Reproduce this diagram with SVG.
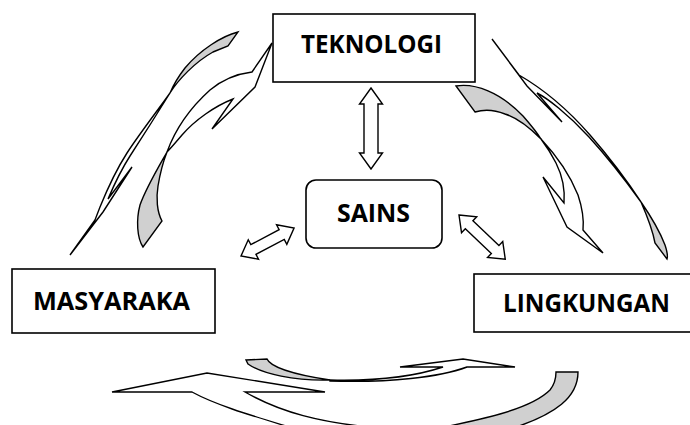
<svg xmlns="http://www.w3.org/2000/svg" width="690" height="425" viewBox="0 0 690 425">
<style>
.box{fill:#fff;stroke:#000;stroke-width:1.6}
.lbl{font-family:"Open Sans","Lato",sans-serif;font-weight:bold;font-size:25px;fill:#000}
.w{fill:#fff;stroke:#000;stroke-width:1.4;stroke-linejoin:miter}
.g{fill:#d0d0d0;stroke:#000;stroke-width:1.4;stroke-linejoin:miter}
</style>
<rect width="690" height="425" fill="#fff"/>
<g id="connectors">
  <!-- double arrows -->
  <path class="w" d="M371,88 L382.5,104 L378,104 L378,153 L382.5,153 L371,169 L359.5,153 L364,153 L364,104 L359.5,104 Z"/>
  <path class="w" transform="translate(241,256) rotate(-27.8)" d="M0,0 L14,-11 L14,-5.5 L46,-5.5 L46,-11 L60,0 L46,11 L46,5.5 L14,5.5 L14,11 Z"/>
  <path class="w" transform="translate(459,215) rotate(43.7)" d="M0,0 L14,-11 L14,-5.5 L50,-5.5 L50,-11 L64,0 L50,11 L50,5.5 L14,5.5 L14,11 Z"/>
  <!-- top-left outer curved arrow -->
  <path class="g" d="M238,32 C222,36 200,50 185,68 C178,77 173,86 170,93 C178,80 195,62 213,52 L228,46 Z"/>
  <path class="w" d="M170,93 C158,110 140,133 127,153 C118,167 109,185 100,207 L95,220 L70,255 L103,212 L132,167 L108,199 C114,185 121,170 130,156 C143,136 157,114 170,93 Z"/>
  <!-- top-left inner curved arrow -->
  <path class="g" d="M167,152 C158,168 146,188 140,205 C136,220 137,238 143,247 L162,221 C157,212 156,198 158,186 C160,174 163,162 167,152 Z"/>
  <path class="w" d="M167,152 C175,130 190,108 210,90 C222,80 236,74 252,72 L272,43 L255,87 L212,129 L233,99 C215,106 195,120 182,135 C176,142 171,148 167,152 Z"/>
  <!-- top-right inner curved arrow -->
  <path class="g" d="M456,86 C475,83 500,92 523,116 C530,124 536,131 541,139 C530,128 518,118 505,114 C495,110 485,109 475,112 Z"/>
  <path class="w" d="M541,139 C556,155 570,175 578,195 C582,207 584,220 583,230 L603,253 L567,227 L543,177 L564,203 C565,190 562,175 556,163 C552,155 547,147 541,139 Z"/>
  <!-- top-right outer curved arrow -->
  <path class="w" d="M492,39 L519,75 C545,90 570,112 590,135 C610,158 628,182 641,202 C628,184 610,160 589,137 C568,114 547,98 537,93 L562,122 L527,86 Z"/>
  <path class="g" d="M641,202 C650,215 660,232 665,245 C667,251 668,256 667,259 L655,243 C653,232 648,218 641,202 Z"/>
  <!-- bottom upper curved arrow -->
  <path class="g" d="M246,360 L267,359 C270,366 290,374 330,380 C295,381 262,374 248,364 Z"/>
  <path class="w" d="M330,380 C370,381 410,378 443,367 L400,367 L463,359 L515,367 L467,367 C440,377 390,383 330,381 Z"/>
  <!-- bottom lower big curved arrow -->
  <path class="w" d="M192,392 L112,392 L207,373 L325,392 L245,392 C280,412 320,423 380,428 L380,440 L330,440 C280,423 225,410 192,392 Z"/>
  <path class="g" d="M556,372 L578,372 C578,395 560,415 500,432 L420,432 C480,420 530,410 550,390 C554,385 556,378 556,372 Z"/>
</g>
<g id="teknologi">
  <rect class="box" x="273" y="14" width="202" height="68"/>
  <text class="lbl" x="301" y="53" textLength="141" lengthAdjust="spacingAndGlyphs">TEKNOLOGI</text>
</g>
<g id="sains">
  <rect class="box" x="306" y="180" width="136" height="68" rx="10"/>
  <text class="lbl" x="337" y="222" textLength="73" lengthAdjust="spacingAndGlyphs">SAINS</text>
</g>
<g id="masyaraka">
  <rect class="box" x="12" y="269" width="203" height="64"/>
  <text class="lbl" x="33" y="310" textLength="157" lengthAdjust="spacingAndGlyphs">MASYARAKA</text>
</g>
<g id="lingkungan">
  <rect class="box" x="474" y="274" width="230" height="58"/>
  <text class="lbl" x="503" y="312" textLength="167" lengthAdjust="spacingAndGlyphs">LINGKUNGAN</text>
</g>
</svg>
